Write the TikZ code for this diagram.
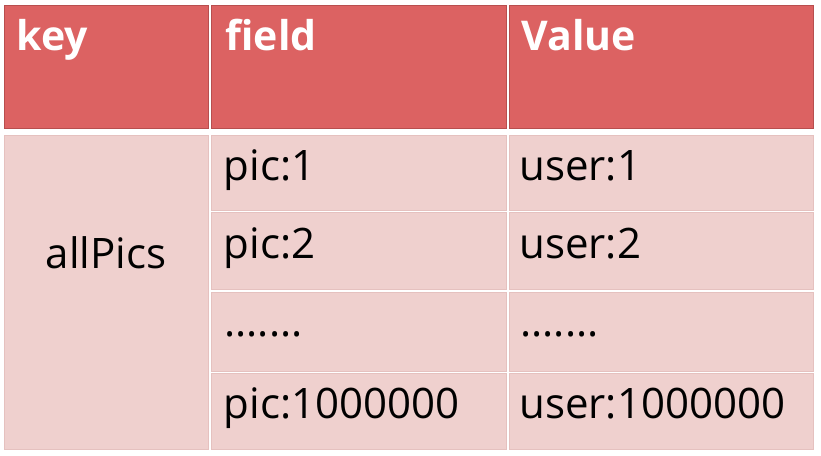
\documentclass[tikz,border=0pt]{standalone}
\usepackage{fontspec}
\setmainfont{Open Sans}
\definecolor{headred}{RGB}{220,98,98}
\definecolor{headline}{RGB}{184,78,78}
\definecolor{bodypink}{RGB}{239,208,206}
\definecolor{bodyline}{RGB}{229,193,191}

\begin{document}
\begin{tikzpicture}[x=1pt, y=-1pt, line width=.8pt,
    hcell/.style={draw=headline, fill=headred, inner sep=0, minimum height=123pt},
    bcell/.style={draw=bodyline, fill=bodypink, inner sep=0},
    htxt/.style={anchor=base west, inner sep=0, text=white, font=\fontsize{41}{49}\selectfont\bfseries},
    btxt/.style={anchor=base west, inner sep=0, font=\fontsize{42}{50}\selectfont}]
    \useasboundingbox[fill=white] (0,0) rectangle (821,455);
    % header row
    \node[hcell, minimum width=204pt] (hkey) at (106,66.5) {};
    \node[hcell, minimum width=295pt] (hfield) at (358.5,66.5) {};
    \node[hcell, minimum width=304pt] (hvalue) at (661,66.5) {};
    \node[htxt] (tkey) at (16,50) {key};
    \node[htxt] (tfield) at (225,50) {field};
    \node[htxt] (tvalue) at (521,50) {Value};
    % key column
    \node[bcell, minimum width=204pt, minimum height=314pt] (bkey) at (106,292) {};
    \node[btxt, anchor=base] (tall) at (106,268) {allPics};
    % field and value rows
    \node[bcell, minimum width=295pt, minimum height=75pt] (f1) at (358.5,172.5) {};
    \node[bcell, minimum width=295pt, minimum height=77pt] (f2) at (358.5,251) {};
    \node[bcell, minimum width=295pt, minimum height=79pt] (f3) at (358.5,331.5) {};
    \node[bcell, minimum width=295pt, minimum height=75.5pt] (f4) at (358.5,411.25) {};
    \node[bcell, minimum width=304pt, minimum height=75pt] (v1) at (661,172.5) {};
    \node[bcell, minimum width=304pt, minimum height=77pt] (v2) at (661,251) {};
    \node[bcell, minimum width=304pt, minimum height=79pt] (v3) at (661,331.5) {};
    \node[bcell, minimum width=304pt, minimum height=75.5pt] (v4) at (661,411.25) {};
    \node[btxt] (tf1) at (223.5,180) {pic:1};
    \node[btxt] (tf2) at (223.5,258) {pic:2};
    \node[btxt] (tf3) at (224,336) {.......};
    \node[btxt] (tf4) at (223.5,418) {pic:1000000};
    \node[btxt] (tv1) at (519,180) {user:1};
    \node[btxt] (tv2) at (519,258) {user:2};
    \node[btxt] (tv3) at (520,336) {.......};
    \node[btxt] (tv4) at (519,418) {user:1000000};
\end{tikzpicture}
\end{document}
